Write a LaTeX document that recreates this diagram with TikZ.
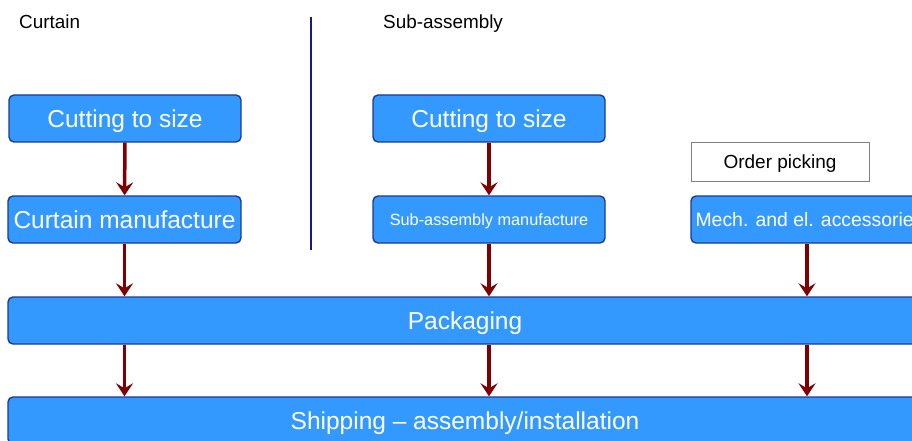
\documentclass[tikz,border=0pt]{standalone}
\usepackage{fontspec}
\setmainfont{Liberation Sans}
\usetikzlibrary{arrows.meta,positioning}

\definecolor{boxblue}{HTML}{3399FF}
\definecolor{boxline}{HTML}{1F3A93}
\definecolor{flowred}{HTML}{7F0000}
\definecolor{divider}{HTML}{1A1A85}

\tikzset{
  stage/.style={draw=boxline, line width=1.4pt, fill=boxblue, rounded corners=5pt,
    text=white, inner sep=0pt, text depth=0pt, minimum height=47pt,
    font=\fontsize{24.5}{28}\selectfont},
  pickbox/.style={draw=gray, line width=0.8pt, fill=white, inner sep=0pt, text depth=0pt,
    minimum width=178pt, minimum height=39pt, font=\fontsize{19}{22}\selectfont},
  heading/.style={anchor=west, inner sep=0pt, text depth=0pt, font=\fontsize{18.9}{22}\selectfont},
  flow/.style={draw=flowred, line width=3.5pt, -{Stealth[length=13pt,width=17pt,inset=5pt]}},
}

\begin{document}
\begin{tikzpicture}[x=1pt, y=-1pt]
  \useasboundingbox (0,0) rectangle (912,441);
  \clip (0,0) rectangle (912,441);

  % headings and divider
  \node[heading] (hcurt) at (19,22) {Curtain};
  \node[heading] (hsub) at (383,22) {Sub-assembly};
  \draw[divider, line width=2.5pt] (311,17) -- (311,250);

  % curtain column
  \node[stage, minimum width=232pt] (cut1) at (125,118.5) {Cutting to size};
  \node[stage, minimum width=233pt] (curt) at (124.5,219.5) {Curtain manufacture};

  % sub-assembly column
  \node[stage, minimum width=232pt] (cut2) at (489,118.5) {Cutting to size};
  \node[stage, minimum width=232pt, font=\fontsize{16.3}{19}\selectfont] (sub) at (489,219.5) {Sub-assembly manufacture};

  % order picking column
  \node[pickbox] (pick) at (780,161.5) {Order picking};
  \node[stage, minimum width=237pt, font=\fontsize{19.4}{22}\selectfont] (mech) at (809.5,219.5) {Mech. and el. accessories};

  % common steps
  \node[stage, minimum width=914pt] (pack) at (465,320.5) {Packaging};
  \node[stage, minimum width=914pt] (ship) at (465,420.5) {Shipping -- assembly/installation};

  \draw[flow] (cut1) -- (curt);
  \draw[flow] (cut2) -- (sub);
  \draw[flow] (curt.south) -- (curt.south |- pack.north);
  \draw[flow] (sub.south) -- (sub.south |- pack.north);
  \draw[flow] ([xshift=-2.5pt]mech.south) -- ([xshift=-2.5pt]mech.south |- pack.north);
  \draw[flow] (pack.south -| curt) -- (ship.north -| curt);
  \draw[flow] (pack.south -| sub) -- (ship.north -| sub);
  \draw[flow] (pack.south -| 807,0) -- (ship.north -| 807,0);
\end{tikzpicture}
\end{document}
